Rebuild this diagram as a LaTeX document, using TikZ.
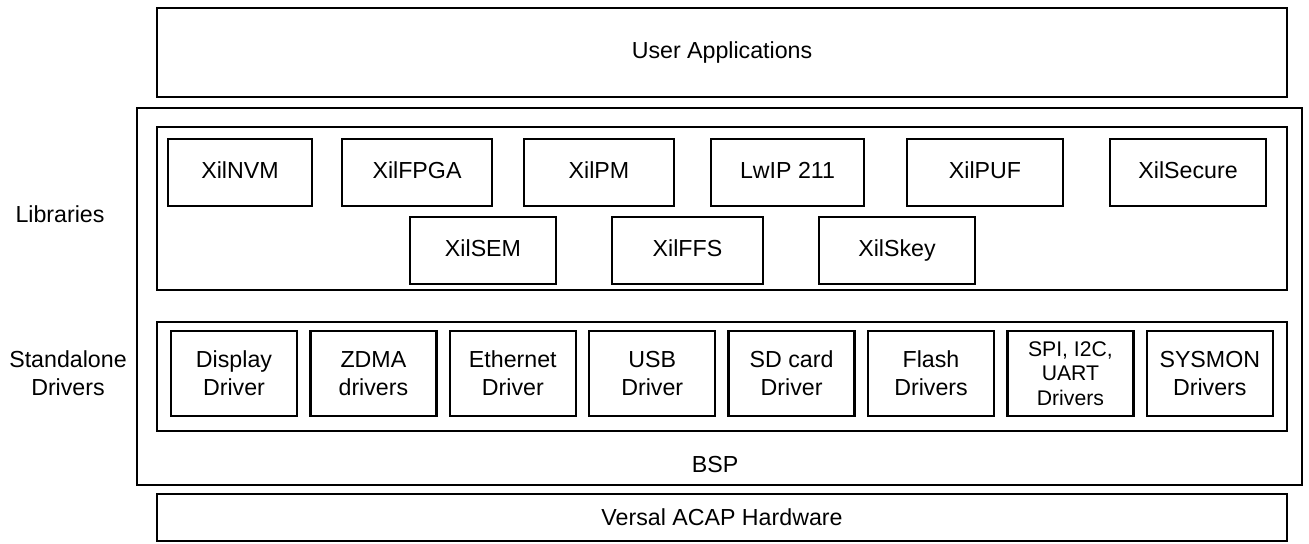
\documentclass[tikz,border=0pt]{standalone}
\usepackage{fontspec}
\setmainfont{Liberation Sans}
\usepackage{tikz}
\newcommand{\boxline}{1.2pt}
\newcommand{\drvtext}[2]{#1\\#2}

\begin{document}
\begin{tikzpicture}[x=0.5pt,y=-0.5pt,
    every node/.style={font=\fontsize{11.6}{14}\selectfont},
    layer/.style={draw,line width=\boxline,inner sep=0pt,minimum width=565pt},
    libbox/.style={draw,line width=\boxline,inner sep=0pt,minimum height=33.5pt,text height=1.5ex,text depth=0.3ex},
    drvbox/.style={draw,line width=\boxline,inner sep=0pt,minimum width=63pt,minimum height=42.5pt,align=center}]

 \useasboundingbox (0,0) rectangle (1309,543);

   \node[layer,minimum height=44.5pt] (userapp) at (722,52.5) {User Applications};
   \node[draw,line width=\boxline,minimum width=582.5pt,minimum height=188.5pt] (bsp) at (719.5,296.5) {};
   \node[layer,minimum height=81.5pt] (libs) at (722,208.5) {};
   \node[layer,minimum height=54.5pt] (drv) at (722,376.5) {};
   \node[layer,minimum height=23.5pt] (hw) at (722,517.5) {Versal ACAP Hardware};

   \node (bsplabel) at (715,464) {BSP};
   \node (liblabel) at (60,214) {Libraries};
   \node[align=center] (drvlabel) at (68,373) {Standalone\\Drivers};

   \node[libbox,minimum width=72pt] (xilnvm) at (240,172.5) {XilNVM};
   \node[libbox,minimum width=75pt] (xilfpga) at (417,172.5) {XilFPGA};
   \node[libbox,minimum width=75pt] (xilpm) at (599,172.5) {XilPM};
   \node[libbox,minimum width=76.5pt] (lwip) at (787.5,172.5) {LwIP 211};
   \node[libbox,minimum width=78pt] (xilpuf) at (985,172.5) {XilPUF};
   \node[libbox,minimum width=78pt] (xilsecure) at (1188,172.5) {XilSecure};
   \node[libbox,minimum width=73pt] (xilsem) at (483,250.5) {XilSEM};
   \node[libbox,minimum width=75.5pt] (xilffs) at (687.5,250.5) {XilFFS};
   \node[libbox,minimum width=78pt] (xilskey) at (897,250.5) {XilSkey};

   \foreach \i/\name/\txt in {0/display/{\drvtext{Display}{Driver}},
                              1/zdma/{\drvtext{ZDMA}{drivers}},
                              2/ethernet/{\drvtext{Ethernet}{Driver}},
                              3/usb/{\drvtext{USB}{Driver}},
                              4/sdcard/{\drvtext{SD card}{Driver}},
                              5/flash/{\drvtext{Flash}{Drivers}},
                              7/sysmon/{\drvtext{SYSMON}{Drivers}}}
     \node[drvbox] (\name) at ({234+139.4*\i},373.5) {\txt};
   \node[drvbox,font=\fontsize{10.6}{12.2}\selectfont] (spi) at ({234+139.4*6},373.5) {SPI, I2C,\\UART\\Drivers};

\end{tikzpicture}
\end{document}
